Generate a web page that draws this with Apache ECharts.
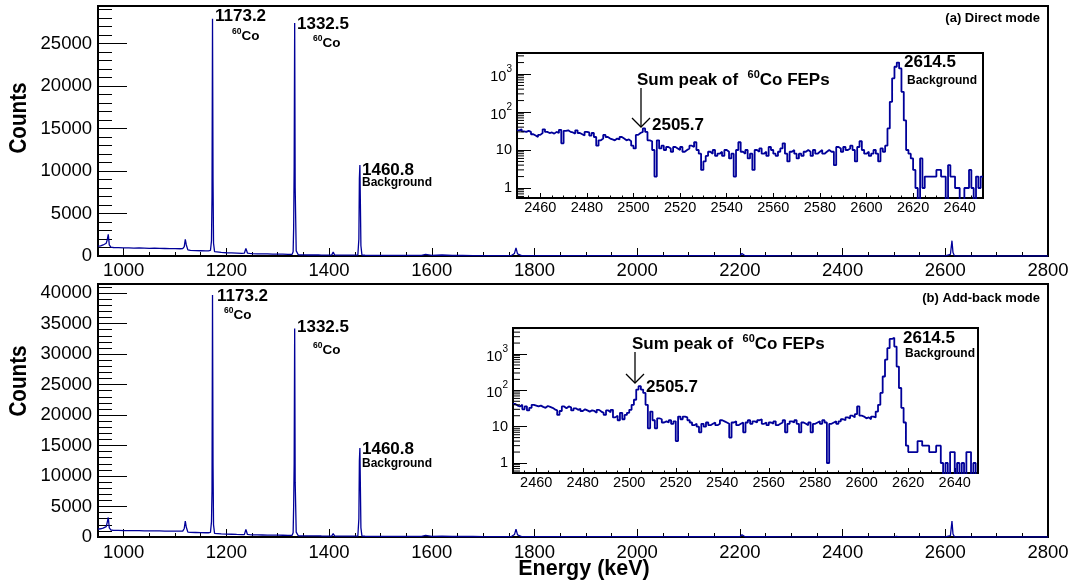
<!DOCTYPE html>
<html><head><meta charset="utf-8">
<script src="https://cdn.jsdelivr.net/npm/echarts@6/dist/echarts.min.js"></script>
<style>html,body{margin:0;padding:0;background:#fff}#c{width:1075px;height:586px}</style>
</head><body><div id="c"></div>
<script>
const FONT = '"Liberation Sans", Arial, Helvetica, sans-serif';
const BLUE = '#000099';

// ---- Main spectra (energy in keV, counts) ----
const mainEnergy = [950,955,960,963,966,968,970,972,975,980,990,1000,1010,1020,1030,1040,1050,1060,1070,1080,1090,1100,1110,1115,1118,1120,1122,1125,1130,1140,1150,1160,1165,1169,1171,1172,1173,1174,1175,1177,1180,1190,1200,1210,1220,1230,1235,1238,1241,1245,1250,1260,1270,1280,1290,1300,1310,1320,1328,1330,1331,1332,1333,1334,1336,1340,1350,1360,1370,1375,1377,1379,1385,1395,1405,1408,1411,1420,1430,1440,1450,1456,1458,1459,1460,1461,1462,1464,1470,1480,1500,1520,1540,1560,1580,1588,1600,1620,1640,1660,1680,1700,1720,1740,1755,1761,1764,1767,1775,1800,1850,1900,1950,2000,2050,2100,2103,2110,2150,2200,2204,2210,2250,2300,2350,2400,2450,2500,2505,2510,2550,2600,2610,2613,2614,2615,2618,2650,2700,2750,2800];
const directCounts = [1150,1200,1300,1450,1500,1900,2550,1300,1050,1000,980,960,950,930,940,920,900,910,890,880,870,860,850,860,1100,1950,1300,720,660,640,620,600,600,650,1800,7000,27900,9000,1500,520,450,420,380,360,340,320,330,900,350,300,280,260,250,240,230,220,210,200,190,500,3300,10500,27400,8000,600,140,130,120,115,115,350,120,110,105,100,450,105,100,95,95,95,100,2000,9100,10700,6000,1200,100,90,85,80,80,75,75,70,200,65,120,60,60,55,55,55,50,50,300,950,250,50,45,45,40,40,40,35,35,200,35,30,30,300,30,28,25,25,22,22,15,30,10,8,8,200,1800,2000,400,10,2,1,1,1];
const addbackCounts = [1300,1350,1450,1650,1700,2400,3200,1500,1150,1100,1080,1060,1050,1040,1030,1020,1010,1000,990,980,970,960,950,960,1400,2600,1600,800,760,740,720,700,700,750,2500,7500,39700,12000,2000,600,520,500,470,450,420,400,400,1250,420,380,360,340,330,320,310,300,290,280,270,700,5000,12000,34200,9000,800,200,190,180,170,170,450,170,160,150,150,550,150,140,140,135,135,140,3000,12500,14600,8000,1500,140,120,115,110,105,100,100,95,260,90,160,85,80,80,75,75,70,70,400,1300,350,65,60,60,55,55,50,50,45,260,45,40,40,380,40,38,35,32,30,30,20,110,15,12,14,240,2600,2800,500,15,2,1,1,1];

// ---- Insets: 1-keV bins, lower edge from insetStart ----
const insetStart = 2450;
const insetDirect = [
  33,35,31,30,32,30,26,24,22,25,
  28,35,30,28,29,27,30,28,34,15,
  32,33,30,29,27,33,28,26,24,30,
  29,24,28,22,13,18,20,25,22,20,
  19,18,20,19,22,20,18,19,17,13,
  11,25,28,30,37,30,18,17,10,2,
  18,11,13,10,12,11,9,12,11,10,
  12,9,10,11,13,12,16,10,8,3,
  5,7,9,8,10,7,8,9,7,10,
  9,6,8,2,10,16,9,8,10,6,
  8,3,10,9,11,8,9,7,12,10,
  8,7,9,11,15,8,5,9,10,8,
  6,8,7,9,10,9,7,10,8,9,
  10,8,9,10,9,9,4,12,11,9,
  12,10,11,13,10,5,12,17,10,8,
  9,7,8,10,8,5,11,9,13,37,
  185,770,1550,2000,1400,340,60,10,8,6,
  3,1,0,6,1,2,2,2,2,2,
  3,3,2,2,0,4,2,2,1,1,
  0,0,1,1,3,1,0,2,1,2
];
const insetAddback = [
  42,38,36,40,30,36,28,33,40,38,
  36,38,35,33,37,35,33,30,28,21,
  27,36,32,36,34,28,32,29,31,27,
  30,28,26,28,27,24,29,26,24,21,
  28,25,29,18,20,15,24,16,21,24,
  29,40,55,105,130,105,85,40,9,26,
  15,9,17,16,13,14,13,15,12,14,
  4,19,16,19,18,15,13,11,12,10,
  7,12,10,13,11,12,13,11,12,15,
  14,13,12,5,13,14,11,12,13,7,
  13,15,12,14,13,15,16,12,13,11,
  13,12,14,11,12,13,15,7,12,14,
  13,15,12,7,13,12,11,13,7,12,
  13,14,12,15,13,1,12,13,14,12,
  14,16,15,18,17,20,18,22,36,20,
  19,17,18,16,19,18,26,40,85,240,
  700,1450,2600,2800,1600,450,116,33,13,3,
  2,2,2,2,4,4,3,3,3,2,
  2,2,3,3,1,0,1,0,2,2,
  0,1,0,1,0,2,2,0,1,0
];

// ---- build series data ----
function pairs(xs, ys){ return xs.map((x,i)=>[x, ys[i]]); }
function steps(vals){
  const out = vals.map((v,i)=>[insetStart+i, v>0 ? v : 0.1]);
  out.push([insetStart+vals.length, out[out.length-1][1]]);
  return out;
}
function logMinors(min, max){
  const r=[]; for(let d=-1; d<=4; d++) for(let m=2; m<=9; m++){ const v=m*Math.pow(10,d); if(v>min && v<max) r.push([insetStart, v]); }
  return r;
}
const tickStyle = {color:'#000', width:1};
const lbl = {color:'#000', fontFamily:FONT};
const plain = function(v){ return String(v); };

function mainX(gi, margin){
  return [
    {type:'value', gridIndex:gi, min:950, max:2800, splitNumber:9, position:'bottom',
     axisLine:{show:false}, splitLine:{show:false},
     axisTick:{show:true, inside:true, length:8, lineStyle:tickStyle},
     axisLabel:Object.assign({show:true, showMinLabel:false, margin:margin, fontSize:18.5, formatter:plain}, lbl)},
    {type:'value', gridIndex:gi, min:950, max:2800, interval:50, position:'bottom',
     axisLine:{show:false}, splitLine:{show:false},
     axisTick:{show:true, inside:true, length:4, lineStyle:tickStyle},
     axisLabel:{show:false}}
  ];
}
function insetX(gi){
  return [
    {type:'value', gridIndex:gi, min:2450, max:2650, splitNumber:10, position:'bottom',
     axisLine:{show:false}, splitLine:{show:false},
     axisTick:{show:true, inside:true, length:5, lineStyle:tickStyle},
     axisLabel:Object.assign({show:true, showMinLabel:false, showMaxLabel:false, margin:2, fontSize:14.5, formatter:plain}, lbl)},
    {type:'value', gridIndex:gi, min:2450, max:2650, interval:5, position:'bottom',
     axisLine:{show:false}, splitLine:{show:false},
     axisTick:{show:true, inside:true, length:2.5, lineStyle:tickStyle},
     axisLabel:{show:false}}
  ];
}
function mainY(gi, max){
  return [
    {type:'value', gridIndex:gi, min:0, max:max, interval:5000, position:'left',
     axisLine:{show:false}, splitLine:{show:false},
     axisTick:{show:true, inside:true, length:29, lineStyle:tickStyle},
     axisLabel:Object.assign({show:true, showMaxLabel:false, margin:6, fontSize:18.5, formatter:plain}, lbl)},
    {type:'value', gridIndex:gi, min:0, max:max, interval:1000, position:'left',
     axisLine:{show:false}, splitLine:{show:false},
     axisTick:{show:true, inside:true, length:14, lineStyle:tickStyle},
     axisLabel:{show:false}}
  ];
}
function logY(gi, min, max){
  return {type:'log', logBase:10, gridIndex:gi, min:min, max:max, position:'left',
    axisLine:{show:false}, splitLine:{show:false}, minorTick:{show:false},
    axisTick:{show:true, inside:true, length:14, lineStyle:tickStyle},
    axisLabel:Object.assign({show:true, margin:5, fontSize:14.5,
      formatter:function(v){ const l=Math.log10(v), r=Math.round(l); if(Math.abs(l-r)>1e-6) return '';
        if(r===0) return '1'; if(r===1) return '10'; return '{b|10}{s|'+r+'}'; },
      rich:{b:{fontSize:14.5, fontFamily:FONT, color:'#000', verticalAlign:'bottom', lineHeight:20},
            s:{fontSize:10, fontFamily:FONT, color:'#000', verticalAlign:'top', lineHeight:20}}}, lbl)};
}
function minorTickSeries(xi, yi, min, max){
  return {type:'custom', xAxisIndex:xi, yAxisIndex:yi, silent:true, z:5,
    data:logMinors(min,max),
    renderItem:function(params, api){ const p=api.coord([api.value(0), api.value(1)]);
      return {type:'line', shape:{x1:p[0], y1:p[1], x2:p[0]+7, y2:p[1]}, style:{stroke:'#000', lineWidth:1}}; }};
}
function lineSeries(xi, yi, data, step, w){
  return {type:'line', xAxisIndex:xi, yAxisIndex:yi, data:data, step:step||false, showSymbol:false,
    symbol:'none', clip:true, sampling:null, lineStyle:{color:BLUE, width:w}, itemStyle:{color:BLUE}, z:3};
}

// ---- annotation helpers ----
function txt(x, y, text, size, opts){
  opts = opts || {};
  return {type:'text', x:x, y:y, rotation:opts.rot||0, scaleX:opts.sx||1, z:100,
    style:{x:0, y:0, text:text, fill:'#000', fontFamily:FONT, fontWeight:'bold', fontSize:size,
      align:opts.align||'left', verticalAlign:'middle', rich:opts.rich}};
}
const richCo = {s:{fontSize:8.5, fontWeight:'bold', fontFamily:FONT, fill:'#000', verticalAlign:'top', lineHeight:16},
               c:{fontSize:13.5, fontWeight:'bold', fontFamily:FONT, fill:'#000', verticalAlign:'bottom', lineHeight:16}};
const richSum = {a:{fontSize:17, fontWeight:'bold', fontFamily:FONT, fill:'#000', verticalAlign:'bottom', lineHeight:20},
                 s:{fontSize:11, fontWeight:'bold', fontFamily:FONT, fill:'#000', verticalAlign:'top', lineHeight:20}};
function arrow(x, y1, y2){
  return [
    {type:'line', z:100, shape:{x1:x, y1:y1, x2:x, y2:y2}, style:{stroke:'#000', lineWidth:1.3}},
    {type:'polyline', z:100, shape:{points:[[x-9,y2-9],[x,y2],[x+9,y2-9]]}, style:{stroke:'#000', lineWidth:1.3, fill:null}}
  ];
}

const graphics = [
  txt(19, 118, 'Counts', 24, {rot:Math.PI/2, align:'center', sx:0.86}),
  txt(19, 381, 'Counts', 24, {rot:Math.PI/2, align:'center', sx:0.86}),
  txt(584, 569, 'Energy (keV)', 21.5, {align:'center'}),
  // panel a
  txt(215, 16.5, '1173.2', 17),
  txt(232, 35, '{s|60}{c|Co}', 13, {rich:richCo}),
  txt(297, 24.5, '1332.5', 17),
  txt(313, 42, '{s|60}{c|Co}', 13, {rich:richCo}),
  txt(362, 170, '1460.8', 17),
  txt(362, 183, 'Background', 12),
  txt(1040, 18, '(a) Direct mode', 13, {align:'right'}),
  txt(637, 79, '{a|Sum peak of  }{s|60}{a|Co FEPs}', 17, {rich:richSum}),
  txt(652, 125.5, '2505.7', 17),
  txt(904, 62.5, '2614.5', 17),
  txt(907, 80.5, 'Background', 12),
  // panel b
  txt(217, 296, '1173.2', 17),
  txt(224, 314, '{s|60}{c|Co}', 13, {rich:richCo}),
  txt(297, 327.5, '1332.5', 17),
  txt(313, 349, '{s|60}{c|Co}', 13, {rich:richCo}),
  txt(362, 449, '1460.8', 17),
  txt(362, 464, 'Background', 12),
  txt(1040, 298, '(b) Add-back mode', 13, {align:'right'}),
  txt(632, 343, '{a|Sum peak of  }{s|60}{a|Co FEPs}', 17, {rich:richSum}),
  txt(646, 387, '2505.7', 17),
  txt(903, 338, '2614.5', 17),
  txt(905, 354, 'Background', 12)
].concat(arrow(641, 88, 127), arrow(635, 352, 383));

const option = {
  animation:false,
  backgroundColor:'#fff',
  grid:[
    {left:98, top:6, width:950, height:250, show:true, borderColor:'#000', borderWidth:2, backgroundColor:'transparent'},
    {left:517, top:53, width:466, height:145, show:true, borderColor:'#000', borderWidth:2, backgroundColor:'#fff'},
    {left:98, top:284, width:950, height:253, show:true, borderColor:'#000', borderWidth:2, backgroundColor:'transparent'},
    {left:513, top:328, width:465, height:145, show:true, borderColor:'#000', borderWidth:2, backgroundColor:'#fff'}
  ],
  xAxis:[].concat(mainX(0,5), insetX(1), mainX(2,6), insetX(3)),
  yAxis:[].concat(mainY(0,29400), [logY(1,0.546,3570)], mainY(2,41500), [logY(3,0.53,5200)]),
  series:[
    lineSeries(0,0,pairs(mainEnergy,directCounts),false,1.3),
    lineSeries(2,2,steps(insetDirect),'end',1.8),
    minorTickSeries(2,2,0.546,3570),
    lineSeries(4,3,pairs(mainEnergy,addbackCounts),false,1.3),
    lineSeries(6,5,steps(insetAddback),'end',1.8),
    minorTickSeries(6,5,0.53,5200)
  ],
  graphic:graphics
};
const chart = echarts.init(document.getElementById('c'));
chart.setOption(option);
</script></body></html>
